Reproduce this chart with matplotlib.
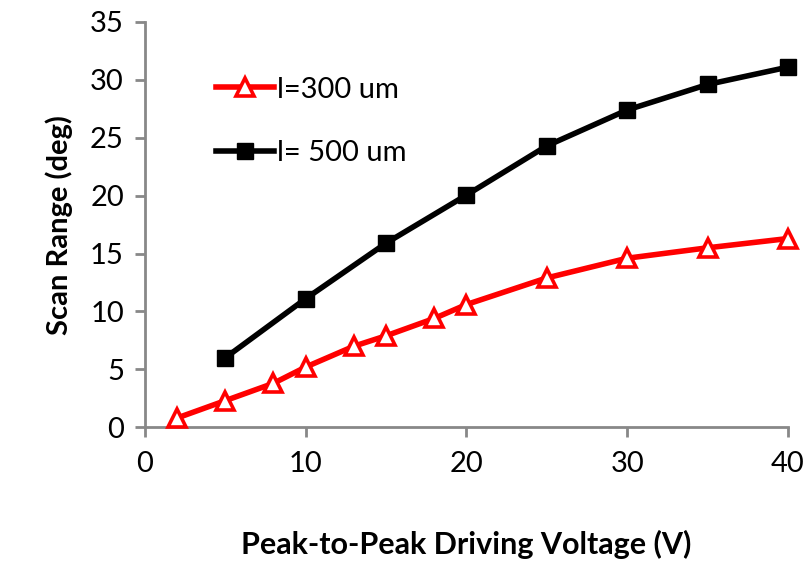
import matplotlib.pyplot as plt

plt.rcParams['font.family'] = ['Lato', 'DejaVu Sans']

v_300 = [2, 5, 8, 10, 13, 15, 18, 20, 25, 30, 35, 40]
scan_300 = [0.8, 2.3, 3.8, 5.2, 7.0, 7.9, 9.4, 10.6, 12.9, 14.6, 15.5, 16.3]

v_500 = [5, 10, 15, 20, 25, 30, 35, 40]
scan_500 = [6.0, 11.1, 15.9, 20.05, 24.3, 27.4, 29.6, 31.1]

fig, ax = plt.subplots(figsize=(8.09, 5.63), dpi=100)
fig.subplots_adjust(left=0.179, right=0.974, bottom=0.241, top=0.961)

ax.plot(v_300, scan_300, color='#ff0000', lw=4, marker='^', ms=13,
        mfc='white', mec='#ff0000', mew=2.6, label='l=300 um', zorder=3,
        clip_on=False)
ax.plot(v_500, scan_500, color='black', lw=4, marker='s', ms=12,
        mfc='black', mec='black', label='l= 500 um', zorder=4,
        clip_on=False)

ax.set_xlim(0, 40)
ax.set_ylim(0, 35)
ax.set_xticks(range(0, 41, 10))
ax.set_yticks(range(0, 36, 5))

for side in ['top', 'right']:
    ax.spines[side].set_visible(False)
for side in ['left', 'bottom']:
    ax.spines[side].set_color('#888888')
    ax.spines[side].set_linewidth(2)
ax.tick_params(colors='#888888', labelcolor='black', labelsize=21,
               width=2, length=7, direction='out')
ax.tick_params(axis='x', pad=10)
ax.tick_params(axis='y', pad=8)

ax.set_xlabel('Peak-to-Peak Driving Voltage (V)', fontsize=22, fontweight='bold', labelpad=38)
ax.set_ylabel('Scan Range (deg)', fontsize=21, fontweight='bold', labelpad=12)

ax.legend(loc='upper left', bbox_to_anchor=(0.07, 0.93), frameon=False,
          fontsize=21, handlelength=2.0, handletextpad=0.1, labelspacing=1.3)

fig.savefig('out.png', dpi=100)
